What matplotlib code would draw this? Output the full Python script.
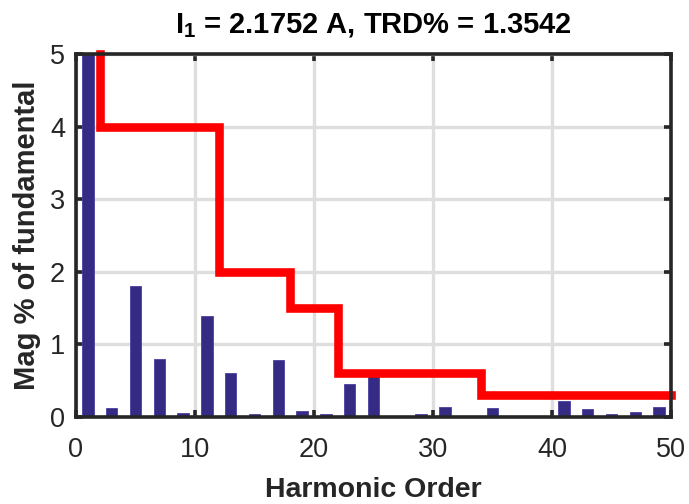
import numpy as np
import matplotlib
matplotlib.use('Agg')
import matplotlib.pyplot as plt

plt.rcParams['font.family'] = ['Liberation Sans', 'DejaVu Sans']
plt.rcParams['mathtext.fontset'] = 'custom'
plt.rcParams['mathtext.rm'] = 'Liberation Sans'
plt.rcParams['mathtext.bf'] = 'Liberation Sans:bold'

# harmonic spectrum (odd orders), % of fundamental
orders = [1, 3, 5, 7, 9, 11, 13, 15, 17, 19, 21, 23, 25,
          27, 29, 31, 33, 35, 37, 39, 41, 43, 45, 47, 49]
mag = [100, 0.12, 1.80, 0.80, 0.05, 1.39, 0.60, 0.03, 0.78, 0.08, 0.04, 0.45, 0.58,
       0.00, 0.03, 0.13, 0.01, 0.12, 0.01, 0.01, 0.22, 0.10, 0.03, 0.06, 0.13]

# limit curve: breakpoints and level in each band
lim_edges = [2, 12, 18, 22, 34, 50]
lim_levels = [4, 2, 1.5, 0.6, 0.3]
lim_top = 5

I1 = 2.1752
TRD = 1.3542

# build stair coordinates for the limit line
lx = [lim_edges[0]]
ly = [lim_top]
for i, lev in enumerate(lim_levels):
    lx += [lim_edges[i], lim_edges[i + 1]]
    ly += [lev, lev]

fig = plt.figure(figsize=(6.89, 5.04), dpi=100)
ax = fig.add_axes([0.1103, 0.1736, 0.8636, 0.7192])

ax.bar(orders, mag, width=0.95, color='#362b84', edgecolor='#4a40a0', linewidth=0.6, zorder=2)
ax.plot(lx, ly, color='#ff0000', lw=6.2, solid_capstyle='projecting',
        solid_joinstyle='miter', clip_on=False, zorder=3)

ax.set_xlim(0, 50)
ax.set_ylim(0, 5)
ax.set_xticks(np.arange(0, 51, 10))
ax.set_yticks(np.arange(0, 6, 1))

ax.grid(True, color='#dedede', lw=2.4, zorder=0)
ax.set_axisbelow(True)

for s in ax.spines.values():
    s.set_linewidth(2.6)
    s.set_color('#262626')
    s.set_zorder(4)

ax.tick_params(direction='in', length=5, width=2.6, color='#262626',
               labelsize=19.5, labelcolor='#262626', top=True, right=True)
ax.tick_params(axis='x', pad=15)
ax.tick_params(axis='y', pad=8)

ax.set_xlabel('Harmonic Order', fontsize=20.5, fontweight='bold', color='#262626', labelpad=10)
ax.set_ylabel('Mag % of fundamental', fontsize=21, fontweight='bold', color='#262626', labelpad=6)
ax.set_title(r'$\mathbf{I_1}$ = %.4f A, TRD%% = %.4f' % (I1, TRD),
             fontsize=21, fontweight='bold', pad=15)

fig.savefig('out.png', dpi=100)
